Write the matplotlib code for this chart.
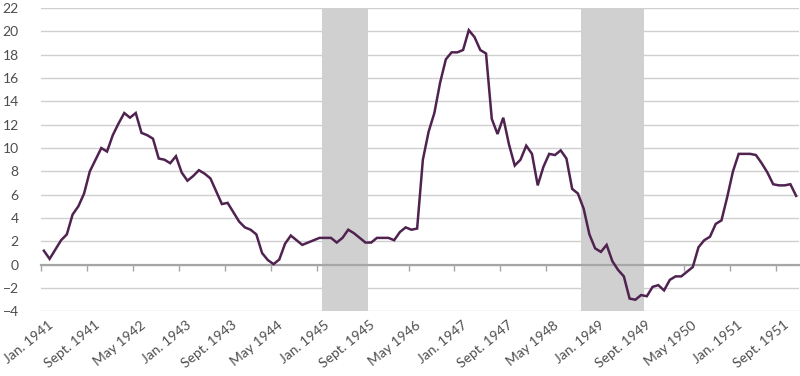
import matplotlib
matplotlib.use('Agg')
import matplotlib.pyplot as plt
import matplotlib.transforms as mtransforms
import numpy as np

# Monthly year-over-year values, Jan. 1941 - Dec. 1951
values_1941 = [1.2, 0.5, 1.3, 2.1, 2.6, 4.3, 5.0, 6.1, 8.0, 9.0, 10.0, 9.7]
values_1942 = [11.1, 12.1, 13.0, 12.6, 13.0, 11.3, 11.1, 10.8, 9.1, 9.0, 8.7, 9.3]
values_1943 = [7.9, 7.2, 7.6, 8.1, 7.8, 7.4, 6.3, 5.2, 5.3, 4.5, 3.7, 3.2]
values_1944 = [3.0, 2.6, 1.0, 0.4, 0.05, 0.45, 1.8, 2.5, 2.1, 1.7, 1.9, 2.1]
values_1945 = [2.3, 2.3, 2.3, 1.9, 2.3, 3.0, 2.7, 2.3, 1.9, 1.9, 2.3, 2.3]
values_1946 = [2.3, 2.1, 2.8, 3.2, 3.0, 3.1, 9.0, 11.4, 13.0, 15.6, 17.6, 18.2]
values_1947 = [18.2, 18.4, 20.1, 19.5, 18.4, 18.1, 12.5, 11.2, 12.6, 10.3, 8.5, 9.0]
values_1948 = [10.2, 9.5, 6.8, 8.4, 9.5, 9.4, 9.8, 9.1, 6.5, 6.1, 4.8, 2.6]
values_1949 = [1.4, 1.1, 1.7, 0.3, -0.45, -1.0, -2.9, -3.0, -2.6, -2.7, -1.9, -1.75]
values_1950 = [-2.2, -1.3, -1.0, -1.0, -0.6, -0.2, 1.5, 2.1, 2.4, 3.5, 3.8, 5.8]
values_1951 = [8.0, 9.5, 9.5, 9.5, 9.4, 8.7, 7.9, 6.9, 6.8, 6.8, 6.9, 5.9]

values = (values_1941 + values_1942 + values_1943 + values_1944 + values_1945 +
          values_1946 + values_1947 + values_1948 + values_1949 + values_1950 +
          values_1951)

tick_labels = ["Jan. 1941", "Sept. 1941", "May 1942", "Jan. 1943", "Sept. 1943",
               "May 1944", "Jan. 1945", "Sept. 1945", "May 1946", "Jan. 1947",
               "Sept. 1947", "May 1948", "Jan. 1949", "Sept. 1949", "May 1950",
               "Jan. 1951", "Sept. 1951"]

# Recession periods as month indices (Feb. 1945 - Oct. 1945, Nov. 1948 - Oct. 1949)
recessions = [(49, 57), (94, 105)]

plt.rcParams['font.family'] = ['Lato', 'DejaVu Sans']

fig = plt.figure(figsize=(8, 3.76), dpi=100)
ax = fig.add_axes([41 / 800, (376 - 311.4) / 376, 758 / 800, (311.4 - 8) / 376])

x = np.arange(len(values))
ax.set_xlim(-0.5, len(values) - 0.5)
ax.set_ylim(-4, 22)

for s, e in recessions:
    ax.axvspan(s - 0.55, e - 0.55, color='#d0d0d0', lw=0, zorder=1)

ax.set_yticks(range(-4, 23, 2))
ax.grid(axis='y', color='#cfcfcf', lw=1)
ax.grid(axis='x', visible=False)
ax.set_axisbelow(True)

for sp in ['top', 'right', 'left']:
    ax.spines[sp].set_visible(False)
ax.spines['bottom'].set_position(('data', 0))
ax.spines['bottom'].set_color('#a6a6a6')
ax.spines['bottom'].set_linewidth(1.6)
ax.spines['bottom'].set_zorder(2)

ax.plot(x, values, color='#4f2250', lw=1.8, zorder=3, solid_joinstyle='miter')

xt = np.arange(-0.5, len(values), 8)[:len(tick_labels)]
ax.set_xticks(xt)
ax.set_xticklabels(tick_labels, rotation=39, ha='right', va='top',
                   rotation_mode='anchor', fontsize=10, color='#4d4d4d')
ax.tick_params(axis='x', length=4, width=1, color='#a6a6a6', pad=35)
ax.tick_params(axis='y', length=0, pad=16, labelsize=10, labelcolor='#4d4d4d')

offset = mtransforms.ScaledTranslation(7 / 100, 0, fig.dpi_scale_trans)
for lab in ax.get_xticklabels():
    lab.set_transform(lab.get_transform() + offset)

fig.savefig('out.png', dpi=100)
